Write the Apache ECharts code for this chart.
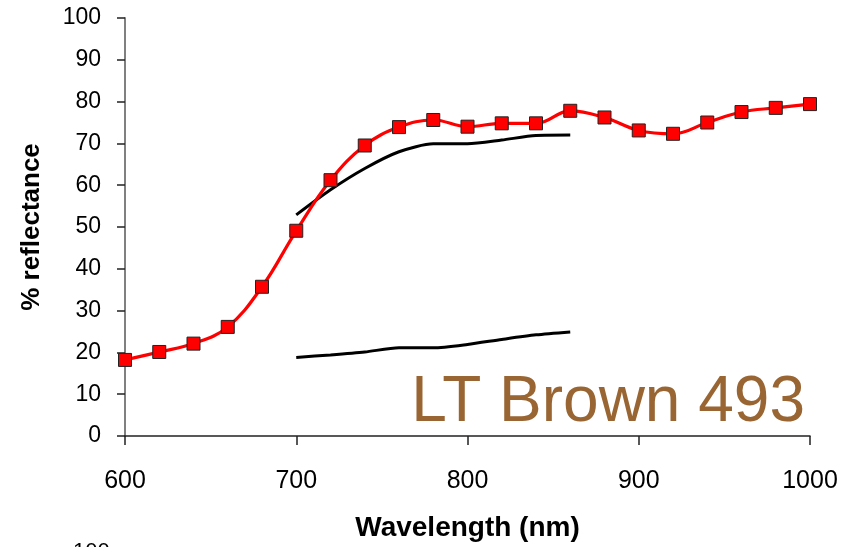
<!DOCTYPE html>
<html>
<head>
<meta charset="utf-8">
<script src="https://cdn.jsdelivr.net/npm/echarts@6/dist/echarts.min.js"></script>
<style>
  html, body { margin: 0; padding: 0; background: #fff; }
  #chart { width: 850px; height: 547px; }
</style>
</head>
<body>
<div id="chart"></div>
<script>
// Reflectance spectrum of the "LT Brown 493" sample (measured points every 20 nm)
const wavelengths = [600, 620, 640, 660, 680, 700, 720, 740, 760, 780, 800,
                     820, 840, 860, 880, 900, 920, 940, 960, 980, 1000];
const reflectance = [18.2, 20.1, 22.1, 26.1, 35.7, 49.1, 61.2, 69.5, 73.9, 75.6, 74.0,
                     74.8, 74.8, 77.8, 76.2, 73.1, 72.3, 75.0, 77.5, 78.5, 79.4];

// Upper and lower envelope curves over 700-860 nm
const boundWavelengths = [700, 720, 740, 760, 780, 800, 820, 840, 860];
const upperBound = [52.9, 58.9, 64.0, 68.0, 69.9, 69.9, 70.8, 71.9, 72.0];
const lowerBound = [18.8, 19.4, 20.1, 21.1, 21.1, 21.9, 23.1, 24.2, 24.9];

const xTicks = [600, 700, 800, 900, 1000];
const yTicks = [0, 10, 20, 30, 40, 50, 60, 70, 80, 90, 100];

const FONT = '"Liberation Sans", Arial, sans-serif';

const pairs = (xs, ys) => xs.map((x, i) => [x, ys[i]]);

const chart = echarts.init(document.getElementById('chart'), null, { renderer: 'canvas' });

chart.setOption({
  backgroundColor: '#ffffff',
  animation: false,
  grid: { left: 125, right: 40, top: 18, bottom: 111 },
  xAxis: {
    type: 'value',
    min: xTicks[0],
    max: xTicks[xTicks.length - 1],
    interval: 100,
    name: 'Wavelength (nm)',
    nameLocation: 'middle',
    nameGap: 78,
    nameTextStyle: { fontFamily: FONT, fontSize: 28, fontWeight: 'bold', color: '#000' },
    axisLine: { onZero: false, lineStyle: { color: '#222', width: 1.5 } },
    axisTick: { show: true, inside: false, length: 9, lineStyle: { color: '#222', width: 1.5 } },
    axisLabel: { fontFamily: FONT, fontSize: 25, color: '#000', margin: 33,
                 formatter: v => String(v) },
    splitLine: { show: false }
  },
  yAxis: {
    type: 'value',
    min: yTicks[0],
    max: yTicks[yTicks.length - 1],
    interval: 10,
    name: '% reflectance',
    nameLocation: 'middle',
    nameGap: 80,
    nameTextStyle: { fontFamily: FONT, fontSize: 26, fontWeight: 'bold', color: '#000' },
    axisLine: { show: true, lineStyle: { color: '#808080', width: 2 } },
    axisTick: { show: true, inside: false, length: 8, lineStyle: { color: '#222', width: 1.5 } },
    axisLabel: { fontFamily: FONT, fontSize: 23, color: '#000', margin: 24,
                 formatter: v => String(v) },
    splitLine: { show: false }
  },
  series: [
    {
      name: 'upper',
      type: 'line',
      data: pairs(boundWavelengths, upperBound),
      smooth: 0.25,
      symbol: 'none',
      lineStyle: { color: '#000', width: 3 },
      z: 2
    },
    {
      name: 'lower',
      type: 'line',
      data: pairs(boundWavelengths, lowerBound),
      smooth: 0.25,
      symbol: 'none',
      lineStyle: { color: '#000', width: 3 },
      z: 2
    },
    {
      name: 'LT Brown 493',
      type: 'line',
      data: pairs(wavelengths, reflectance),
      smooth: 0.4,
      symbol: 'rect',
      symbolSize: 13,
      showAllSymbol: true,
      lineStyle: { color: '#ff0000', width: 3.2 },
      itemStyle: { color: '#ff0000', borderColor: '#222', borderWidth: 1 },
      z: 3
    }
  ],
  graphic: [
    {
      type: 'text',
      right: 45,
      top: 371,
      style: {
        text: 'LT Brown 493',
        fontFamily: FONT,
        fontSize: 64,
        fill: '#996633'
      }
    },
    {
      // top of the next panel's axis label, cut by the bottom edge
      type: 'text',
      left: 73,
      top: 541,
      style: {
        text: '100',
        fontFamily: FONT,
        fontSize: 22,
        fill: '#000'
      }
    }
  ]
});
</script>
</body>
</html>
